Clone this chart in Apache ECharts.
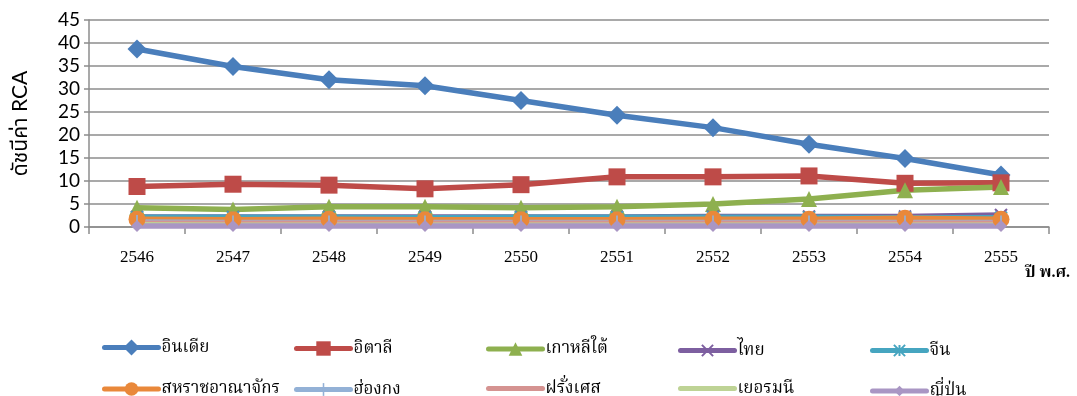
<!DOCTYPE html>
<html>
<head>
<meta charset="utf-8">
<style>
  html, body { margin: 0; padding: 0; background: #ffffff; }
  #chart { width: 1077px; height: 396px; }
</style>
<script src="https://cdn.jsdelivr.net/npm/echarts@6/dist/echarts.min.js"></script>
</head>
<body>
<div id="chart"></div>
<script>
// RCA index by country, Buddhist-era years 2546–2555
const years = ['2546', '2547', '2548', '2549', '2550', '2551', '2552', '2553', '2554', '2555'];

const india    = [38.7, 34.9, 32.0, 30.7, 27.5, 24.3, 21.6, 18.0, 14.9, 11.3];
const italy    = [8.8, 9.3, 9.1, 8.3, 9.2, 10.9, 10.9, 11.1, 9.5, 9.6];
const korea    = [4.2, 3.8, 4.4, 4.4, 4.2, 4.4, 5.0, 6.1, 8.0, 8.7];
const thailand = [2.2, 2.2, 2.2, 2.2, 2.2, 2.2, 2.3, 2.3, 2.3, 2.6];
const china    = [2.1, 2.1, 2.1, 2.0, 2.1, 2.1, 2.1, 2.1, 2.0, 2.0];
const uk       = [1.7, 1.6, 1.7, 1.6, 1.6, 1.6, 1.7, 1.7, 1.9, 1.7];
const hongkong = [1.1, 1.0, 1.0, 1.0, 1.0, 1.0, 1.0, 1.0, 1.0, 1.0];
const france   = [0.8, 0.8, 0.8, 0.8, 0.8, 0.8, 0.8, 0.8, 0.8, 0.8];
const germany  = [0.5, 0.4, 0.4, 0.4, 0.4, 0.4, 0.4, 0.4, 0.4, 0.4];
const japan    = [0.2, 0.2, 0.2, 0.2, 0.2, 0.2, 0.2, 0.2, 0.2, 0.2];

const yTicks = [0, 5, 10, 15, 20, 25, 30, 35, 40, 45];

// marker shapes: X cross, asterisk, thin vertical bar (corner moves keep a square box)
const CROSS = 'path://M0,0L10,10M10,0L0,10';
const STAR = 'path://M0,0L10,10M10,0L0,10M5,0L5,10';
const BAR = 'path://M0,0M10,10M4.4,0L5.6,0L5.6,10L4.4,10Z';

const seriesDefs = [
  { name: 'อินเดีย',        data: india,    color: '#4A7EBB', symbol: 'diamond',  size: 19, key: 20 },
  { name: 'อิตาลี',         data: italy,    color: '#BE4B48', symbol: 'rect',     size: 17, key: 18 },
  { name: 'เกาหลีใต้',      data: korea,    color: '#8EB04F', symbol: 'triangle', size: 16, key: 17 },
  { name: 'ไทย',            data: thailand, color: '#7D5FA0', symbol: CROSS,      size: 12, key: 14 },
  { name: 'จีน',            data: china,    color: '#46A5C0', symbol: STAR,       size: 12, key: 14 },
  { name: 'สหราชอาณาจักร', data: uk,       color: '#E9883A', symbol: 'circle',   size: 17, key: 17 },
  { name: 'ฮ่องกง',         data: hongkong, color: '#93B1D6', symbol: BAR,        size: 14, key: 16 },
  { name: 'ฝรั่งเศส',        data: france,   color: '#D59391', symbol: 'none',     size: 0,  key: 18 },
  { name: 'เยอรมนี',        data: germany,  color: '#BED395', symbol: 'none',     size: 0,  key: 18 },
  { name: 'ญี่ปุ่น',          data: japan,    color: '#A996C4', symbol: 'diamond',  size: 12, key: 13 }
];

const outlined = sym => sym === CROSS || sym === STAR;

const thaiSerif = '"Liberation Serif", "Noto Serif Thai", "Noto Sans Thai", "Tlwg Typo", serif';
const thaiSans = 'Lato, "Noto Sans", "Noto Sans Thai", sans-serif';

// one legend block per series, laid out as a 5 x 2 table
const legends = seriesDefs.map((s, i) => ({
  data: [s.symbol === 'none' ? { name: s.name, itemStyle: { opacity: 0 } } : s.name],
  left: 102 + (i % 5) * 192,
  top: (i < 5 ? 349 : 389) - s.key / 2,
  itemWidth: 54,
  itemHeight: s.key,
  itemGap: 0,
  padding: 0,
  lineStyle: { width: 5, cap: 'round' },
  textStyle: { fontFamily: thaiSerif, fontSize: 17, color: '#000', padding: [0, 0, 0, -2] },
  selectedMode: false
}));

const chart = echarts.init(document.getElementById('chart'));
chart.setOption({
  animation: false,
  backgroundColor: '#ffffff',
  grid: { left: 89, right: 28, top: 20, bottom: 169, containLabel: false },
  legend: legends,
  xAxis: {
    type: 'category',
    data: years,
    boundaryGap: true,
    axisLine: { lineStyle: { color: '#8c8c8c', width: 1.5 } },
    axisTick: { show: true, length: 7, lineStyle: { color: '#8c8c8c', width: 1.5 } },
    axisLabel: { margin: 22, fontFamily: '"Liberation Serif", serif', fontSize: 17, color: '#000' }
  },
  yAxis: {
    type: 'value',
    min: 0,
    max: 45,
    interval: 5,
    name: 'ดัชนีค่า RCA',
    nameLocation: 'middle',
    nameRotate: 90,
    nameGap: 58,
    nameTextStyle: { fontFamily: thaiSans, fontSize: 21, color: '#000' },
    axisLine: { show: true, lineStyle: { color: '#8c8c8c', width: 1.5 } },
    axisTick: { show: true, length: 5, lineStyle: { color: '#8c8c8c', width: 1.5 } },
    axisLabel: {
      fontFamily: 'Lato, "Liberation Sans", sans-serif', fontSize: 19, color: '#000', margin: 9,
      formatter: v => (yTicks.includes(v) ? String(v) : '')
    },
    splitLine: { show: true, lineStyle: { color: '#8c8c8c', width: 1.5 } }
  },
  graphic: [{
    type: 'text',
    left: 1025,
    top: 265,
    style: { text: 'ปี พ.ศ.', fontFamily: thaiSerif, fontSize: 16, fontWeight: 'bold', fill: '#000' }
  }],
  series: seriesDefs.map(s => ({
    name: s.name,
    type: 'line',
    data: s.data,
    symbol: s.symbol,
    symbolSize: s.size,
    showSymbol: s.symbol !== 'none',
    lineStyle: { color: s.color, width: 5.5 },
    itemStyle: outlined(s.symbol)
      ? { color: 'none', borderColor: s.color, borderWidth: 2 }
      : { color: s.color, borderColor: s.color, borderWidth: 0 },
    emphasis: { disabled: true }
  }))
});
</script>
</body>
</html>
